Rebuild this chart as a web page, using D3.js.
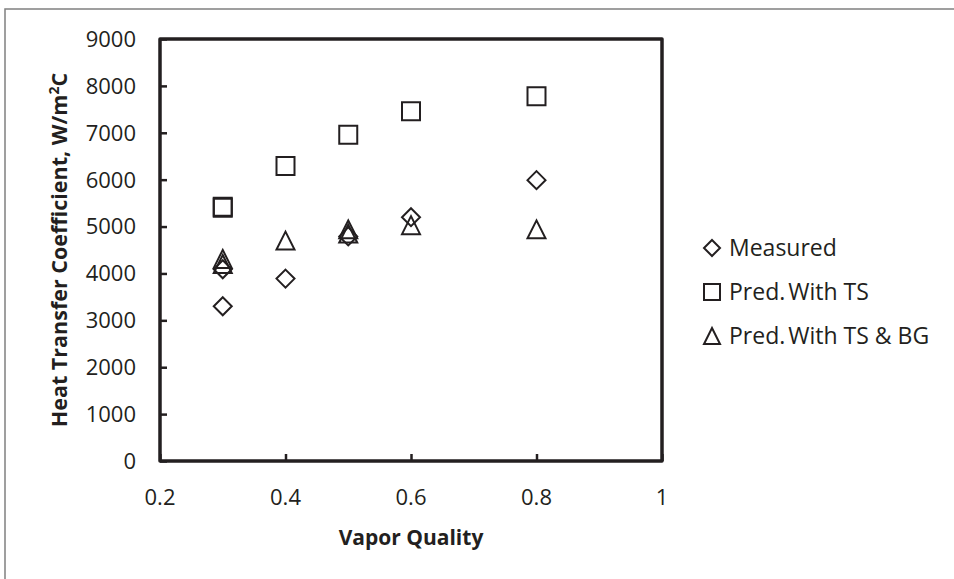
<!DOCTYPE html>
<html>
<head>
<meta charset="utf-8">
<script src="https://cdn.jsdelivr.net/npm/d3@7"></script>
<style>
  body { margin: 0; background: #fff; }
  svg { display: block; font-family: "Open Sans", sans-serif; }
</style>
</head>
<body>
<svg width="954" height="579"></svg>
<script>
// data
var measuredX = [0.3, 0.3, 0.4, 0.5, 0.6, 0.8];
var measuredY = [3300, 4090, 3890, 4790, 5200, 5990];

var predTsX = [0.3, 0.3, 0.4, 0.5, 0.6, 0.8];
var predTsY = [5400, 5420, 6290, 6960, 7460, 7780];

var predTsBgX = [0.3, 0.3, 0.4, 0.5, 0.5, 0.6, 0.8];
var predTsBgY = [4310, 4200, 4700, 4940, 4850, 5030, 4940];

var xTicks = [0.2, 0.4, 0.6, 0.8, 1];
var yTicks = [0, 1000, 2000, 3000, 4000, 5000, 6000, 7000, 8000, 9000];

var seriesNames = ["Measured", "Pred. With TS", "Pred. With TS & BG"];

var svg = d3.select("svg"),
    width = +svg.attr("width"),
    height = +svg.attr("height");

var margin = {left: 160, right: 292, top: 39, bottom: 118};
var ink = "#231f20";
var markSize = 18;

var x = d3.scaleLinear().domain([0.2, 1]).range([margin.left, width - margin.right]);
var y = d3.scaleLinear().domain([0, 9000]).range([height - margin.bottom, margin.top]);

// outer chart border
svg.append("rect")
    .attr("x", 5).attr("y", 9)
    .attr("width", width + 10).attr("height", height + 10)
    .attr("fill", "none")
    .attr("stroke", "#808080")
    .attr("stroke-width", 1.5);

function shapePath(kind, s) {
    var h = s / 2;
    if (kind === "square") return "M" + (-h) + "," + (-h) + "H" + h + "V" + h + "H" + (-h) + "Z";
    if (kind === "diamond") return "M0," + (-h) + "L" + h + ",0L0," + h + "L" + (-h) + ",0Z";
    return "M0," + (-h) + "L" + h + "," + h + "L" + (-h) + "," + h + "Z";
}

function zip(xs, ys) {
    return xs.map(function (v, i) { return {x: v, y: ys[i]}; });
}

var series = [
    {name: seriesNames[0], shape: "diamond", points: zip(measuredX, measuredY)},
    {name: seriesNames[1], shape: "square", points: zip(predTsX, predTsY)},
    {name: seriesNames[2], shape: "triangle", points: zip(predTsBgX, predTsBgY)}
];

// ticks drawn inside the frame
var yAxis = d3.axisRight(y).tickValues(yTicks).tickSize(7).tickFormat("");
svg.append("g")
    .attr("transform", "translate(" + margin.left + ",0)")
    .call(yAxis)
    .call(function (g) {
        g.select(".domain").remove();
        g.selectAll("line").attr("stroke", ink).attr("stroke-width", 2.5);
    });

var xAxis = d3.axisTop(x).tickValues(xTicks).tickSize(7).tickFormat("");
svg.append("g")
    .attr("transform", "translate(0," + y(0) + ")")
    .call(xAxis)
    .call(function (g) {
        g.select(".domain").remove();
        g.selectAll("line").attr("stroke", ink).attr("stroke-width", 2.5);
    });

// tick labels
svg.append("g").selectAll("text")
    .data(yTicks)
    .enter().append("text")
    .attr("x", 136)
    .attr("y", function (d) { return y(d); })
    .attr("dy", "0.36em")
    .attr("text-anchor", "end")
    .attr("font-size", 22)
    .attr("fill", ink)
    .text(function (d) { return d; });

svg.append("g").selectAll("text")
    .data(xTicks)
    .enter().append("text")
    .attr("x", function (d) { return x(d); })
    .attr("y", 505)
    .attr("text-anchor", "middle")
    .attr("font-size", 22)
    .attr("fill", ink)
    .text(function (d) { return d; });

// plot frame
svg.append("rect")
    .attr("x", x(0.2)).attr("y", y(9000))
    .attr("width", x(1) - x(0.2)).attr("height", y(0) - y(9000))
    .attr("fill", "none")
    .attr("stroke", ink)
    .attr("stroke-width", 3.5)
    .attr("stroke-linejoin", "round");

// markers
series.forEach(function (s) {
    svg.append("g").selectAll("path")
        .data(s.points)
        .enter().append("path")
        .attr("transform", function (d) { return "translate(" + x(d.x) + "," + y(d.y) + ")"; })
        .attr("d", shapePath(s.shape, markSize))
        .attr("fill", "none")
        .attr("stroke", ink)
        .attr("stroke-width", 2);
});

// axis titles
svg.append("text")
    .attr("x", (x(0.2) + x(1)) / 2)
    .attr("y", 545)
    .attr("text-anchor", "middle")
    .attr("font-size", 21)
    .attr("font-weight", "bold")
    .attr("fill", ink)
    .text("Vapor Quality");

var yTitle = svg.append("text")
    .attr("transform", "translate(67," + ((y(0) + y(9000)) / 2) + ") rotate(-90)")
    .attr("text-anchor", "middle")
    .attr("font-size", 21.5)
    .attr("font-weight", "bold")
    .attr("fill", ink);
yTitle.append("tspan").text("Heat Transfer Coefficient, W/m");
yTitle.append("tspan").attr("dy", -8).attr("font-size", 14).text("2");
yTitle.append("tspan").attr("dy", 8).text("C");

// legend
var legend = svg.append("g")
    .selectAll("g")
    .data(series)
    .enter().append("g")
    .attr("transform", function (d, i) { return "translate(712," + (248 + i * 44) + ")"; });

legend.append("path")
    .attr("d", function (d) { return shapePath(d.shape, 16); })
    .attr("fill", "none")
    .attr("stroke", ink)
    .attr("stroke-width", 2);

var legendText = legend.append("text")
    .attr("x", 17)
    .attr("dy", "0.36em")
    .attr("font-size", 23)
    .attr("fill", ink);

// Excel squeezes the gap after "Pred."
legendText.each(function (d) {
    var t = d3.select(this);
    var cut = d.name.indexOf(". ");
    if (cut < 0) {
        t.text(d.name);
    } else {
        t.append("tspan").text(d.name.slice(0, cut + 1));
        t.append("tspan").attr("dx", -3).text(d.name.slice(cut + 1));
    }
});
</script>
</body>
</html>
